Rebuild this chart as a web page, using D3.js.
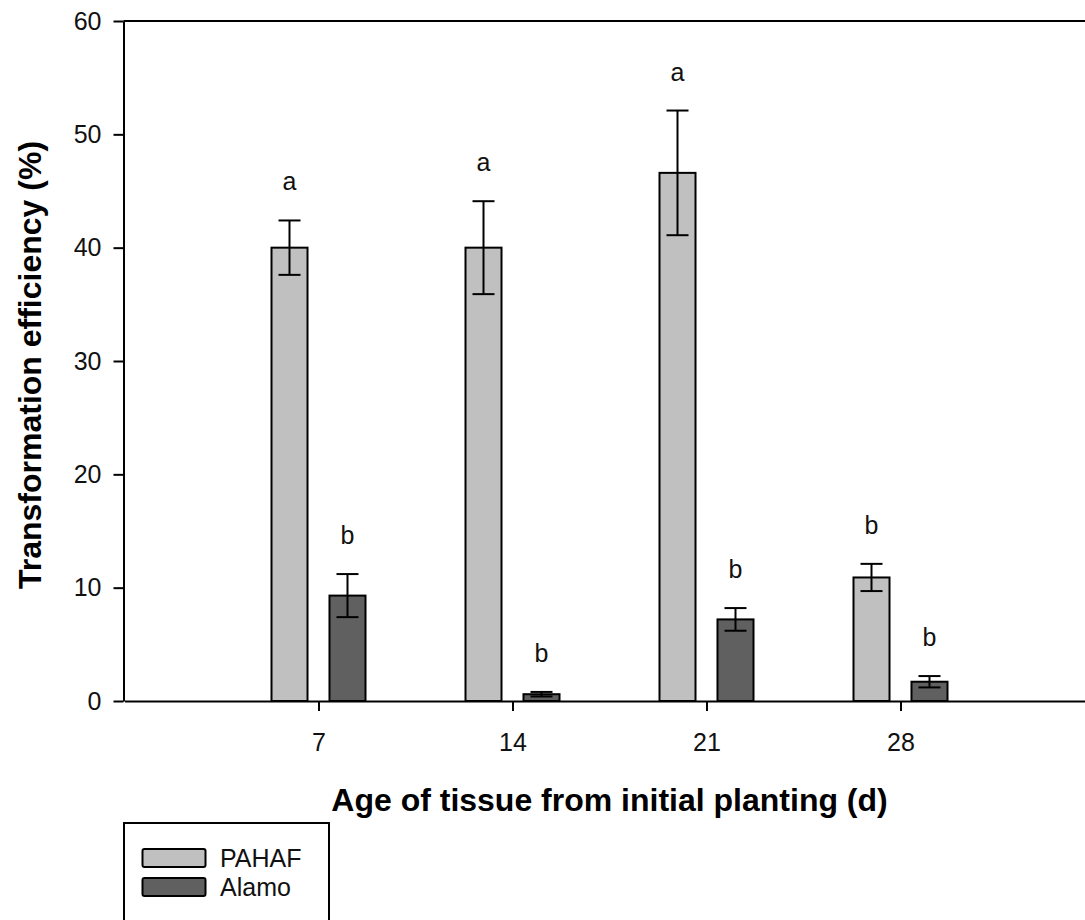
<!DOCTYPE html>
<html>
<head>
<meta charset="utf-8">
<script src="https://cdn.jsdelivr.net/npm/d3@7"></script>
<style>
  html, body { margin: 0; padding: 0; background: #fff; }
  svg { display: block; font-family: "Liberation Sans", Arial, sans-serif; }
</style>
</head>
<body>
<svg id="chart" width="1085" height="920"></svg>
<script>
// Tissue age (days) at which explants were inoculated
const days = [7, 14, 21, 28];
const seriesNames = ["PAHAF", "Alamo"];

// Mean transformation efficiency (%) and standard error per line
const pahafMean = [40.0, 40.0, 46.6, 10.9];
const pahafErr  = [2.4, 4.1, 5.5, 1.2];
const alamoMean = [9.3, 0.6, 7.2, 1.7];
const alamoErr  = [1.9, 0.2, 1.0, 0.5];

// Mean separation letters
const pahafLetters = ["a", "a", "a", "b"];
const alamoLetters = ["b", "b", "b", "b"];

const yTicks = [0, 10, 20, 30, 40, 50, 60];

const fills = { PAHAF: "#c0c0c0", Alamo: "#606060" };
const FONT = "Liberation Sans, Arial, sans-serif";

const svg = d3.select("#chart");

const x = d3.scaleLinear().domain([0, 35]).range([124.5, 1094.5]);
const y = d3.scaleLinear().domain([0, 60]).range([701, 21]);
const sub = d3.scaleBand().domain(seriesNames).range([-47, 47]).paddingInner(0.379);

const rows = [];
days.forEach((d, i) => {
  rows.push({ day: d, s: "PAHAF", v: pahafMean[i], e: pahafErr[i], l: pahafLetters[i] });
  rows.push({ day: d, s: "Alamo", v: alamoMean[i], e: alamoErr[i], l: alamoLetters[i] });
});

// Frame: top border line
svg.append("line")
  .attr("x1", x(0) - 1).attr("x2", x(35))
  .attr("y1", y(60)).attr("y2", y(60))
  .attr("stroke", "#000").attr("stroke-width", 2);

// Y axis
const yAxis = svg.append("g")
  .attr("transform", `translate(${x(0) - 1},0)`)
  .call(d3.axisLeft(y).tickValues(yTicks).tickSize(10).tickSizeOuter(0).tickPadding(12));
yAxis.select(".domain").attr("stroke-width", 2);
yAxis.selectAll(".tick line").attr("stroke-width", 2);
yAxis.selectAll(".tick text").attr("font-size", 25).attr("fill", "#111")
  .attr("font-family", FONT);

// X axis
const xAxis = svg.append("g")
  .attr("transform", `translate(0,${y(0)})`)
  .call(d3.axisBottom(x).tickValues(days).tickSize(10).tickSizeOuter(0).tickPadding(22));
xAxis.select(".domain").attr("stroke-width", 2);
xAxis.selectAll(".tick line").attr("stroke-width", 2);
xAxis.selectAll(".tick text").attr("font-size", 25).attr("fill", "#111")
  .attr("font-family", FONT);

// Bars
svg.append("g").selectAll("rect")
  .data(rows).join("rect")
  .attr("x", d => x(d.day) + sub(d.s))
  .attr("width", sub.bandwidth())
  .attr("y", d => y(d.v))
  .attr("height", d => y(0) - y(d.v))
  .attr("fill", d => fills[d.s])
  .attr("stroke", "#000")
  .attr("stroke-width", 2);

// Error bars
const eb = svg.append("g").attr("stroke", "#000").attr("stroke-width", 2);
rows.forEach(d => {
  const cx = x(d.day) + sub(d.s) + sub.bandwidth() / 2;
  const top = y(d.v + d.e), bot = y(d.v - d.e);
  eb.append("line").attr("x1", cx).attr("x2", cx).attr("y1", top).attr("y2", bot);
  eb.append("line").attr("x1", cx - 11).attr("x2", cx + 11).attr("y1", top).attr("y2", top);
  eb.append("line").attr("x1", cx - 11).attr("x2", cx + 11).attr("y1", bot).attr("y2", bot);
});

// Significance letters above the error bars
svg.append("g").selectAll("text")
  .data(rows).join("text")
  .attr("x", d => x(d.day) + sub(d.s) + sub.bandwidth() / 2)
  .attr("y", d => y(d.v + d.e) - 30)
  .attr("text-anchor", "middle")
  .attr("font-size", 25)
  .attr("fill", "#111")
  .text(d => d.l);

// Axis titles
svg.append("text")
  .attr("transform", `translate(41,${(y(0) + y(60)) / 2 + 4}) rotate(-90)`)
  .attr("text-anchor", "middle")
  .attr("font-size", 32).attr("font-weight", "bold")
  .text("Transformation efficiency (%)");

svg.append("text")
  .attr("x", (x(0) + x(35)) / 2)
  .attr("y", 811)
  .attr("text-anchor", "middle")
  .attr("font-size", 32).attr("font-weight", "bold")
  .text("Age of tissue from initial planting (d)");

// Legend
const lg = svg.append("g");
lg.append("rect")
  .attr("x", 124).attr("y", 823).attr("width", 205).attr("height", 120)
  .attr("fill", "#fff").attr("stroke", "#000").attr("stroke-width", 2);
seriesNames.forEach((s, i) => {
  const top = 849 + i * 29;
  lg.append("rect")
    .attr("x", 142.5).attr("y", top).attr("width", 63).attr("height", 18)
    .attr("rx", 2)
    .attr("fill", fills[s]).attr("stroke", "#000").attr("stroke-width", 2);
  lg.append("text")
    .attr("x", 220).attr("y", top + 18)
    .attr("font-size", 25).attr("fill", "#111")
    .text(s);
});
</script>
</body>
</html>
